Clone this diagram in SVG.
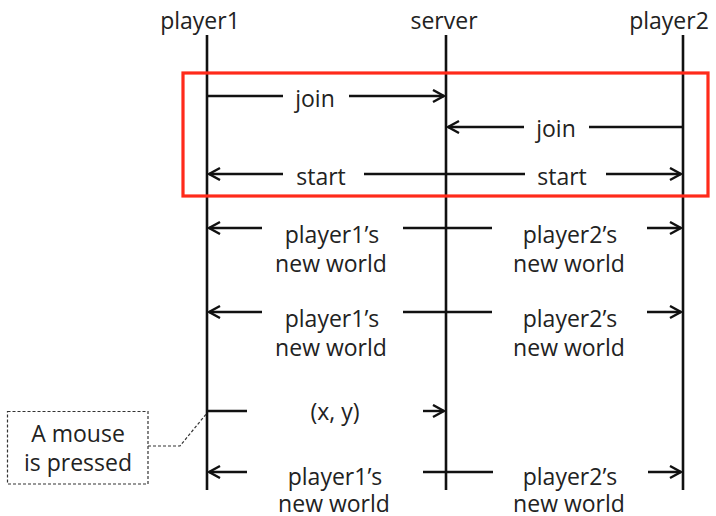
<svg xmlns="http://www.w3.org/2000/svg" width="716" height="516" viewBox="0 0 716 516">
  <style>
    text { font-family: "Open Sans", "Liberation Sans", sans-serif; font-size: 23px; fill: #222; text-anchor: middle; }
    .life { stroke: #111; stroke-width: 2.6; fill: none; }
    .msg { stroke: #111; stroke-width: 2.4; fill: none; }
    .dash { stroke: #333; stroke-width: 1.2; stroke-dasharray: 3 2; fill: none; }
  </style>
  <defs>
    <marker id="arrow" markerUnits="userSpaceOnUse" markerWidth="14" markerHeight="16" refX="12" refY="7" orient="auto-start-reverse">
      <path d="M1,1 L12,7 L1,13" fill="none" stroke="#111" stroke-width="2.4"/>
    </marker>
  </defs>
  <rect width="716" height="516" fill="#fff"/>

  <!-- participants -->
  <g id="player1">
    <text x="200" y="29">player1</text>
    <line class="life" x1="207" y1="35" x2="207" y2="490"/>
  </g>
  <g id="server">
    <text x="444" y="29">server</text>
    <line class="life" x1="446" y1="35" x2="446" y2="490"/>
  </g>
  <g id="player2">
    <text x="669" y="29">player2</text>
    <line class="life" x1="683" y1="35" x2="683" y2="490"/>
  </g>

  <!-- handshake phase -->
  <g id="handshake">
    <rect x="183" y="73" width="525" height="123" fill="none" stroke="#ff2a1a" stroke-width="3.2"/>
  </g>

  <g id="connectors">
    <!-- join: player1 -> server -->
    <line class="msg" x1="207" y1="96" x2="283" y2="96"/>
    <line class="msg" x1="349" y1="96" x2="444" y2="96" marker-end="url(#arrow)"/>
    <!-- join: player2 -> server -->
    <line class="msg" x1="683" y1="127" x2="589" y2="127"/>
    <line class="msg" x1="524" y1="127" x2="448" y2="127" marker-end="url(#arrow)"/>
    <!-- start: server -> both players -->
    <line class="msg" x1="283" y1="174" x2="209" y2="174" marker-end="url(#arrow)"/>
    <line class="msg" x1="364" y1="174" x2="525" y2="174"/>
    <line class="msg" x1="606" y1="174" x2="681" y2="174" marker-end="url(#arrow)"/>

    <!-- new worlds #1 -->
    <line class="msg" x1="262" y1="228" x2="209" y2="228" marker-end="url(#arrow)"/>
    <line class="msg" x1="403" y1="228" x2="492" y2="228"/>
    <line class="msg" x1="647" y1="228" x2="681" y2="228" marker-end="url(#arrow)"/>

    <!-- new worlds #2 -->
    <line class="msg" x1="262" y1="312" x2="209" y2="312" marker-end="url(#arrow)"/>
    <line class="msg" x1="403" y1="312" x2="492" y2="312"/>
    <line class="msg" x1="647" y1="312" x2="681" y2="312" marker-end="url(#arrow)"/>

    <!-- mouse position -->
    <line class="msg" x1="207" y1="411" x2="247" y2="411"/>
    <line class="msg" x1="423" y1="411" x2="444" y2="411" marker-end="url(#arrow)"/>

    <!-- new worlds #3 -->
    <line class="msg" x1="247" y1="472" x2="209" y2="472" marker-end="url(#arrow)"/>
    <line class="msg" x1="423" y1="472" x2="493" y2="472"/>
    <line class="msg" x1="648" y1="472" x2="681" y2="472" marker-end="url(#arrow)"/>

    <!-- callout leader -->
    <polyline class="dash" points="148,446 180,446 207,413"/>
  </g>

  <g id="labels">
    <text x="315" y="107">join</text>
    <text x="556" y="137">join</text>
    <text x="321" y="185">start</text>
    <text x="562" y="185">start</text>

    <text x="332" y="243">player1’s</text>
    <text x="331" y="272">new world</text>
    <text x="570" y="243">player2’s</text>
    <text x="569" y="272">new world</text>

    <text x="332" y="327">player1’s</text>
    <text x="331" y="356">new world</text>
    <text x="570" y="327">player2’s</text>
    <text x="569" y="356">new world</text>

    <text x="335" y="420">(x, y)</text>

    <text x="335" y="485">player1’s</text>
    <text x="334" y="512">new world</text>
    <text x="570" y="485">player2’s</text>
    <text x="569" y="512">new world</text>
  </g>

  <g id="mouse-note">
    <rect class="dash" x="7.5" y="411.5" width="140.5" height="72.5"/>
    <text x="78" y="442">A mouse</text>
    <text x="78" y="471">is pressed</text>
  </g>
</svg>
